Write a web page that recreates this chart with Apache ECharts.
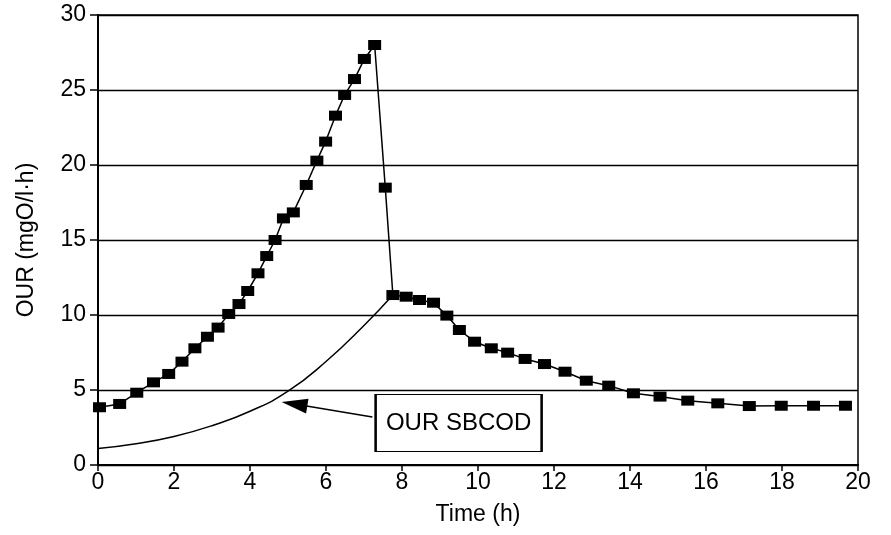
<!DOCTYPE html>
<html>
<head>
<meta charset="utf-8">
<script src="https://cdn.jsdelivr.net/npm/echarts@6/dist/echarts.min.js"></script>
<style>html,body{margin:0;padding:0;background:#fff;}#c{width:891px;height:535px;}</style>
</head>
<body>
<div id="c"></div>
<script>
const obsTime = [0.04,0.57,1.02,1.46,1.86,2.21,2.55,2.88,3.16,3.44,3.71,3.94,4.21,4.44,4.66,4.88,5.14,5.48,5.76,5.99,6.25,6.49,6.75,7.01,7.28,7.56,7.76,8.11,8.46,8.83,9.18,9.51,9.91,10.35,10.78,11.24,11.75,12.29,12.85,13.44,14.09,14.79,15.52,16.31,17.14,17.98,18.83,19.67];
const obsOUR = [3.85,4.07,4.82,5.51,6.07,6.89,7.78,8.55,9.16,10.07,10.73,11.6,12.78,13.93,15.0,16.44,16.84,18.67,20.29,21.56,23.29,24.67,25.73,27.07,28.0,18.49,11.33,11.22,11.0,10.82,9.96,9.0,8.22,7.78,7.49,7.07,6.73,6.22,5.62,5.29,4.78,4.56,4.29,4.11,3.93,3.95,3.95,3.95];
const sbcodTime = [0,1,2,3,4,5,6,7,7.76];
const sbcodOUR = [1.1,1.42,1.9,2.62,3.58,4.92,6.9,9.3,11.33];
const xTicks = {min:0, max:20, interval:2};
const yTicks = {min:0, max:30, interval:5};
const annotationText = 'OUR SBCOD';
const annotationBox = [9.49, 2.8];
const arrowFrom = [7.22, 3.2];
const arrowTo = [5.17, 4.06];

const FONT = '"Liberation Sans", Arial, Helvetica, sans-serif';
const chart = echarts.init(document.getElementById('c'), null, {renderer:'canvas'});
chart.setOption({
  animation:false,
  backgroundColor:'#fff',
  grid:{left:98, right:33, top:15, bottom:70, show:true, borderColor:'#000', borderWidth:1.5, backgroundColor:'transparent'},
  xAxis:{
    type:'value', min:xTicks.min, max:xTicks.max, interval:xTicks.interval,
    name:'Time (h)', nameLocation:'middle', nameGap:38,
    nameTextStyle:{fontFamily:FONT, fontSize:23, color:'#000'},
    axisLine:{show:true, lineStyle:{color:'#000', width:2}},
    axisTick:{show:true, length:6, lineStyle:{color:'#000', width:1.5}},
    axisLabel:{fontFamily:FONT, fontSize:23, color:'#000', margin:6},
    splitLine:{show:false}
  },
  yAxis:{
    type:'value', min:yTicks.min, max:yTicks.max, interval:yTicks.interval,
    name:'OUR (mgO/l·h)', nameLocation:'middle', nameGap:60, nameRotate:90,
    nameTextStyle:{fontFamily:FONT, fontSize:23, color:'#000'},
    axisLine:{show:true, lineStyle:{color:'#000', width:2}},
    axisTick:{show:true, length:8, lineStyle:{color:'#000', width:1.5}},
    axisLabel:{fontFamily:FONT, fontSize:23, color:'#000', margin:12},
    splitLine:{show:true, lineStyle:{color:'#000', width:1.3}}
  },
  series:[
    {
      type:'line', name:'SBCOD',
      data:sbcodTime.map((t,i)=>[t,sbcodOUR[i]]),
      smooth:0.5, showSymbol:false, symbol:'none',
      lineStyle:{color:'#000', width:1.5},
      markLine:{
        silent:true, symbol:['none','triangle'], symbolSize:[15,26],
        lineStyle:{color:'#000', width:1.5, type:'solid'},
        itemStyle:{color:'#000'},
        label:{show:false},
        data:[[{coord:arrowFrom},{coord:arrowTo}]]
      },
      markPoint:{
        silent:true, symbol:'rect', symbolSize:[166,57],
        itemStyle:{color:'#fff', borderColor:'#000', borderWidth:1.5},
        label:{show:true, position:'inside', formatter:annotationText, fontFamily:FONT, fontSize:24, color:'#000'},
        data:[{coord:annotationBox}]
      },
      z:3
    },
    {
      type:'line', name:'OUR',
      data:obsTime.map((t,i)=>[t,obsOUR[i]]),
      symbol:'rect', symbolSize:[13,10], showSymbol:true,
      lineStyle:{color:'#000', width:1.5},
      itemStyle:{color:'#000'},
      z:4
    }
  ]
});
</script>
</body>
</html>
